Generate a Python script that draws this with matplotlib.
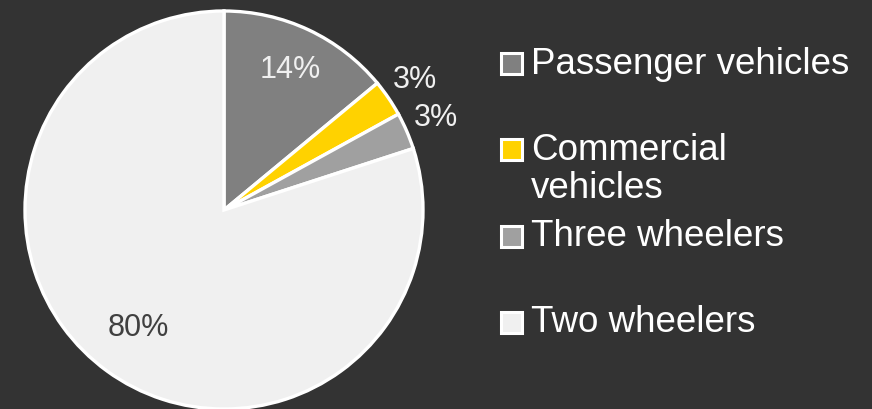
import numpy as np
import matplotlib.pyplot as plt
from matplotlib.patches import Rectangle

plt.rcParams['font.family'] = ['Liberation Sans', 'DejaVu Sans']

categories = ['Passenger vehicles', 'Commercial\nvehicles', 'Three wheelers', 'Two wheelers']
shares = [14, 3, 3, 80]
colors = ['#808080', '#FFD200', '#A0A0A0', '#F0F0F0']
label_text = ['14%', '3%', '3%', '80%']

BG = '#333333'
W, H = 872, 409


def fx(px):
    return px / W


def fy(py):
    return 1 - py / H


fig = plt.figure(figsize=(8.72, 4.09), dpi=100, facecolor=BG)

# pie centred at (224, 210) px, radius ~199 px
cx, cy, r = 224, 210, 199
ax = fig.add_axes([fx(cx - r), fy(cy + r), 2 * r / W, 2 * r / H])
ax.set_facecolor(BG)
wedges, _ = ax.pie(shares, colors=colors, startangle=90, counterclock=False,
                   wedgeprops=dict(edgecolor='white', linewidth=2.4))
ax.set_xlim(-1, 1)
ax.set_ylim(-1, 1)
ax.set_aspect('auto')
ax.axis('off')

# data labels
label_r = [0.78, 1.16, 1.16, 0.73]
label_col = ['#F0F0F0', '#F0F0F0', '#F0F0F0', '#404040']
for w, txt, lr, c in zip(wedges, label_text, label_r, label_col):
    mid = np.deg2rad((w.theta1 + w.theta2) / 2)
    ax.text(lr * np.cos(mid), lr * np.sin(mid), txt, ha='center', va='center',
            fontsize=22, color=c, clip_on=False)

# legend, Excel-like spacing
row_y = [63, 149, 236, 322]
line_gap = 38
box = 21
for name, c, y in zip(categories, colors, row_y):
    fig.patches.append(Rectangle((fx(501), fy(y + box / 2)), box / W, box / H,
                                 transform=fig.transFigure, facecolor=c,
                                 edgecolor='white', linewidth=2.2))
    for i, line in enumerate(name.split('\n')):
        fig.text(fx(531), fy(y + 1 + i * line_gap), line, ha='left', va='center',
                 fontsize=26.5, color='white')

fig.savefig('out.png', dpi=100, facecolor=BG)
